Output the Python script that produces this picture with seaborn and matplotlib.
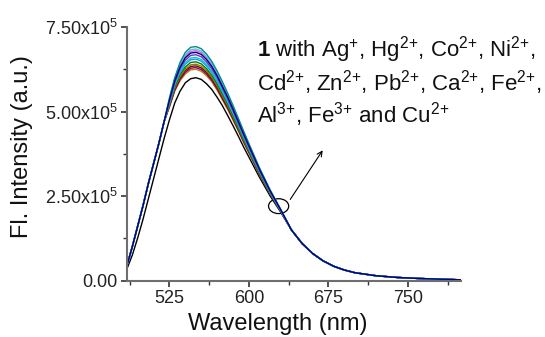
import numpy as np
import pandas as pd
import matplotlib
matplotlib.use("Agg")
import matplotlib.pyplot as plt
import seaborn as sns
from matplotlib.patches import Ellipse

# ---------------- data (intensity in units of 1e5) ----------------
wl_rise = [485, 490, 495, 500, 505, 510, 515, 520]
wl_mid = [525, 530, 535, 540, 545, 550, 555, 560, 565, 570, 575, 580,
          585, 590, 595, 600, 610, 620, 630]
wl_tail = [640, 650, 660, 670, 680, 690, 700, 720, 740, 760, 780, 800]

rise_ions = [0.45, 1.00, 1.60, 2.20, 2.85, 3.45, 4.05, 4.70]
rise_free = [0.35, 0.75, 1.25, 1.80, 2.40, 3.00, 3.60, 4.20]
tail = [1.50, 1.10, 0.80, 0.58, 0.42, 0.31, 0.23, 0.14, 0.09, 0.06, 0.04, 0.02]

mid_free = [4.75, 5.25, 5.60, 5.85, 5.97, 6.00, 5.95, 5.82, 5.65, 5.42, 5.17, 4.88,
            4.58, 4.27, 3.95, 3.65, 3.05, 2.50, 2.02]
mid_s1 = [5.40, 6.00, 6.45, 6.75, 6.90, 6.92, 6.86, 6.70, 6.48, 6.20, 5.88, 5.54,
          5.18, 4.80, 4.42, 4.05, 3.33, 2.68, 2.10]
mid_s2 = [5.37, 5.96, 6.39, 6.68, 6.83, 6.85, 6.79, 6.63, 6.42, 6.14, 5.82, 5.49,
          5.13, 4.76, 4.38, 4.02, 3.31, 2.67, 2.09]
mid_s3 = [5.35, 5.93, 6.35, 6.64, 6.78, 6.80, 6.74, 6.59, 6.37, 6.10, 5.78, 5.45,
          5.10, 4.73, 4.36, 4.00, 3.29, 2.66, 2.09]
mid_s4 = [5.33, 5.90, 6.31, 6.59, 6.73, 6.75, 6.69, 6.54, 6.33, 6.06, 5.74, 5.42,
          5.07, 4.70, 4.33, 3.98, 3.28, 2.65, 2.09]
mid_s5 = [5.30, 5.86, 6.26, 6.52, 6.66, 6.68, 6.62, 6.47, 6.26, 6.00, 5.69, 5.37,
          5.02, 4.66, 4.30, 3.95, 3.26, 2.64, 2.08]
mid_s6 = [5.27, 5.81, 6.19, 6.45, 6.58, 6.60, 6.54, 6.40, 6.19, 5.93, 5.62, 5.31,
          4.97, 4.62, 4.26, 3.92, 3.23, 2.62, 2.07]
mid_s7 = [5.25, 5.78, 6.15, 6.40, 6.53, 6.55, 6.49, 6.35, 6.15, 5.89, 5.58, 5.27,
          4.94, 4.59, 4.23, 3.89, 3.22, 2.61, 2.07]
mid_s8 = [5.22, 5.73, 6.09, 6.32, 6.45, 6.47, 6.41, 6.27, 6.07, 5.82, 5.52, 5.22,
          4.89, 4.54, 4.19, 3.86, 3.19, 2.60, 2.06]
mid_s9 = [5.19, 5.69, 6.03, 6.26, 6.38, 6.40, 6.34, 6.21, 6.01, 5.76, 5.46, 5.17,
          4.84, 4.50, 4.16, 3.83, 3.17, 2.59, 2.06]
mid_s10 = [5.17, 5.66, 5.99, 6.21, 6.33, 6.35, 6.29, 6.16, 5.97, 5.72, 5.42, 5.13,
           4.81, 4.48, 4.13, 3.81, 3.16, 2.58, 2.05]
mid_s11 = [5.15, 5.63, 5.95, 6.16, 6.28, 6.30, 6.24, 6.11, 5.92, 5.67, 5.38, 5.09,
           4.78, 4.45, 4.11, 3.79, 3.14, 2.57, 2.05]
mid_s12 = [5.13, 5.60, 5.91, 6.11, 6.23, 6.25, 6.19, 6.06, 5.88, 5.63, 5.34, 5.06,
           4.74, 4.42, 4.08, 3.77, 3.13, 2.56, 2.05]

series_names = ["1", "Fe3+", "Cu2+", "Al3+", "Ca2+", "Pb2+", "Zn2+", "Cd2+",
                "Ni2+", "Co2+", "Hg2+", "Ag+", "Fe2+"]
series_mid = [mid_free, mid_s12, mid_s11, mid_s10, mid_s9, mid_s8, mid_s7,
              mid_s6, mid_s5, mid_s3, mid_s2, mid_s1, mid_s4]
series_colors = ["#000000", "#B8860B", "#800080", "#800000", "#808000", "#008000",
                 "#1E90FF", "#00CED1", "#7B2FBE", "#E060E0", "#5BC0DE", "#008B8B",
                 "#000080"]

yticks = [0, 2.5, 5.0, 7.5]
ytick_labels = ["0.00", "2.50x10$^{5}$", "5.00x10$^{5}$", "7.50x10$^{5}$"]
xticks = [525, 600, 675, 750]

# ---------------- build long table ----------------
wl_all = wl_rise + wl_mid + wl_tail
rows = []
for name, mid in zip(series_names, series_mid):
    rise = rise_free if name == "1" else rise_ions
    vals = rise + mid + tail
    for w, v in zip(wl_all, vals):
        rows.append({"series": name, "wl": w, "I": v})
df = pd.DataFrame(rows)

# ---------------- style ----------------
sns.set_style("ticks")
plt.rcParams["font.family"] = ["Liberation Sans", "DejaVu Sans"]
plt.rcParams["mathtext.fontset"] = "custom"
plt.rcParams["mathtext.rm"] = "Liberation Sans"
plt.rcParams["mathtext.it"] = "Liberation Sans:italic"
plt.rcParams["mathtext.bf"] = "Liberation Sans:bold"

fig = plt.figure(figsize=(5.45, 3.37), dpi=100)
ax = fig.add_axes([127 / 545, 1 - 280.5 / 337, (461 - 127) / 545, (280.5 - 27) / 337])

sns.lineplot(data=df, x="wl", y="I", hue="series", hue_order=series_names,
             palette=dict(zip(series_names, series_colors)), estimator=None,
             sort=False, legend=False, linewidth=1.0, ax=ax)

ax.set_xlim(485, 800)
ax.set_ylim(0, 7.5)
ax.set_xticks(xticks)
ax.set_xticks([487.5, 562.5, 637.5, 712.5, 787.5], minor=True)
ax.set_yticks(yticks)
ax.set_yticklabels(ytick_labels)
ax.set_yticks([1.25, 3.75, 6.25], minor=True)

for side in ["top", "right"]:
    ax.spines[side].set_visible(False)
for side in ["left", "bottom"]:
    ax.spines[side].set_color("#6e6e6e")
    ax.spines[side].set_linewidth(1.5)
ax.tick_params(axis="both", which="major", direction="out", length=4, width=1.2,
               color="#333333", labelsize=13, labelcolor="#222222", pad=2.5)
ax.tick_params(axis="both", which="minor", direction="out", length=3, width=1.0,
               color="#333333")

ax.set_xlabel("Wavelength (nm)", fontsize=17, color="#111111", va="center")
ax.set_ylabel("Fl. Intensity (a.u.)", fontsize=17, color="#111111", va="center")
ax.xaxis.set_label_coords(0.45, -0.172)
ax.yaxis.set_label_coords(-0.315, 0.529)

# ellipse + arrow
ax.add_patch(Ellipse((628, 2.2), 19, 0.44, fill=False, edgecolor="black", linewidth=0.9))
ax.annotate("", xy=(671, 3.92), xytext=(637.5, 2.33),
            arrowprops=dict(arrowstyle="->", color="black", lw=0.8, mutation_scale=9),
            annotation_clip=False)

# annotation text
fs = 16
fig.text(257 / 545, 1 - 56.7 / 337,
         r"$\mathbf{1}$ with Ag$^{{+}}$, Hg$^{2{+}}$, Co$^{2{+}}$, Ni$^{2{+}}$,",
         fontsize=fs, va="baseline", ha="left", color="#111111")
fig.text(257 / 545, 1 - 90.7 / 337,
         r"Cd$^{2{+}}$, Zn$^{2{+}}$, Pb$^{2{+}}$, Ca$^{2{+}}$, Fe$^{2{+}}$,",
         fontsize=fs, va="baseline", ha="left", color="#111111")
fig.text(257 / 545, 1 - 122.7 / 337,
         r"Al$^{3{+}}$, Fe$^{3{+}}$ and Cu$^{2{+}}$",
         fontsize=fs, va="baseline", ha="left", color="#111111")

fig.savefig("out.png", dpi=100)
